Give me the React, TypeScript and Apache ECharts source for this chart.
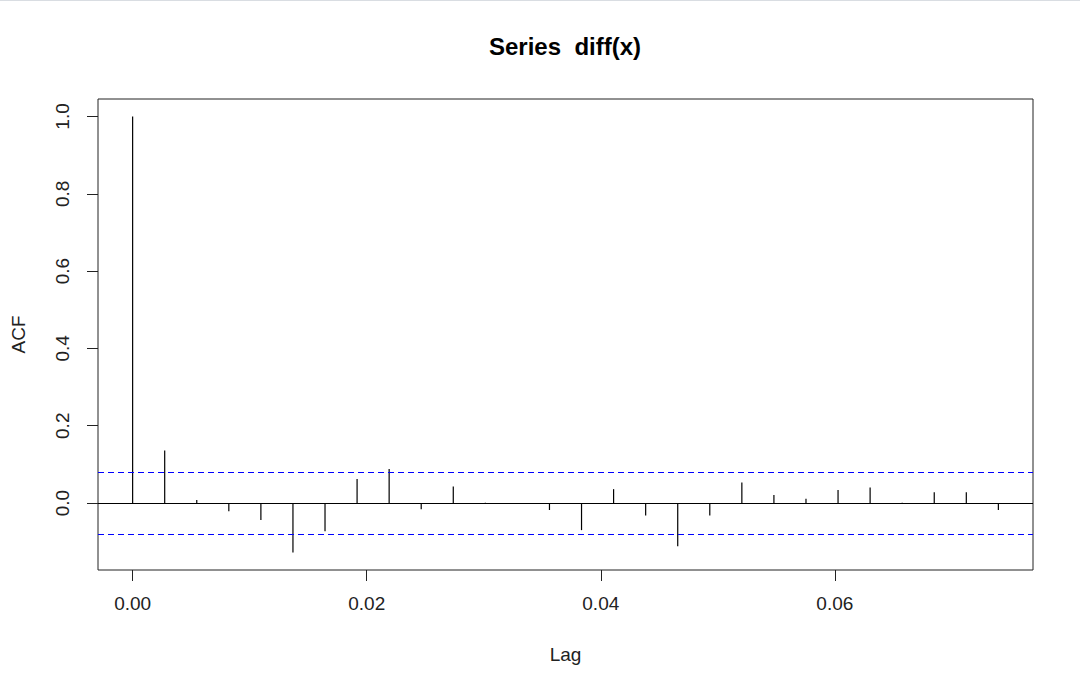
import React, { useEffect, useRef } from "react";
import * as echarts from "echarts";

// ACF values by lag index (lag = k / 365)
const lagIndex = [0, 1, 2, 3, 4, 5, 6, 7, 8, 9, 10, 11, 12, 13, 14, 15, 16, 17, 18, 19, 20, 21, 22, 23, 24, 25, 26, 27];
const acfValues = [
  1.0, 0.136, 0.008, -0.021, -0.044, -0.128, -0.073, 0.062, 0.088, -0.016,
  0.043, 0.001, -0.001, -0.018, -0.07, 0.036, -0.032, -0.112, -0.032, 0.053,
  0.021, 0.011, 0.034, 0.04, 0.001, 0.028, 0.028, -0.018,
];
const frequency = 365;
const confLimit = 0.0806;
const xTicks = [0, 0.02, 0.04, 0.06];
const yTicks = [0, 0.2, 0.4, 0.6, 0.8, 1.0];
const titleText = "Series  diff(x)";
const xName = "Lag";
const yName = "ACF";

const FONT = "'Liberation Sans', Arial, sans-serif";

export default function App() {
  const ref = useRef<HTMLDivElement>(null);
  useEffect(() => {
    if (!ref.current) return;
    const chart = echarts.init(ref.current, null, { renderer: "svg" });
    const data = lagIndex.map((k, i) => [k / frequency, acfValues[i]]);
    const lastLag = lagIndex[lagIndex.length - 1] / frequency;
    const xPad = lastLag * 0.04;
    const yMin = Math.min(...acfValues, -confLimit);
    const yMax = Math.max(...acfValues, confLimit);
    const yPad = (yMax - yMin) * 0.04;
    chart.setOption({
      animation: false,
      backgroundColor: "#fff",
      title: {
        text: titleText,
        left: 560,
        textAlign: "center",
        top: 29,
        textStyle: { fontFamily: FONT, fontSize: 24, fontWeight: "bold", color: "#000" },
      },
      graphic: [
        { type: "rect", left: 0, top: 0, shape: { width: 1080, height: 1 }, style: { fill: "#d9dde2" } },
      ],
      grid: {
        left: 98,
        right: 47,
        top: 99,
        bottom: 107,
        show: true,
        borderColor: "#222",
        borderWidth: 1,
        backgroundColor: "transparent",
      },
      xAxis: {
        type: "value",
        min: -xPad,
        max: lastLag + xPad,
        name: xName,
        nameLocation: "middle",
        nameGap: 75,
        nameTextStyle: { fontFamily: FONT, fontSize: 19, color: "#222" },
        axisLine: { show: false, onZero: false },
        splitLine: { show: false },
        axisTick: { show: true, inside: false, length: 11, lineStyle: { color: "#222" }, customValues: xTicks },
        axisLabel: {
          fontFamily: FONT,
          fontSize: 19,
          color: "#222",
          margin: 24,
          customValues: xTicks,
          formatter: (v: number) => v.toFixed(2),
        },
      },
      yAxis: {
        type: "value",
        min: yMin - yPad,
        max: yMax + yPad,
        name: yName,
        nameLocation: "middle",
        nameGap: 70,
        nameTextStyle: { fontFamily: FONT, fontSize: 19, color: "#222" },
        axisLine: { show: false, onZero: false },
        splitLine: { show: false },
        axisTick: { show: true, inside: false, length: 11, lineStyle: { color: "#222" }, customValues: yTicks },
        axisLabel: {
          fontFamily: FONT,
          fontSize: 19,
          color: "#222",
          rotate: 90,
          margin: 26,
          customValues: yTicks,
          formatter: (v: number) => v.toFixed(1),
        },
      },
      series: [
        {
          type: "custom",
          data,
          encode: { x: 0, y: 1 },
          renderItem: (params: any, api: any) => {
            const x = api.value(0);
            const y = api.value(1);
            const p0 = api.coord([x, 0]);
            const p1 = api.coord([x, y]);
            return {
              type: "line",
              shape: { x1: p0[0], y1: p0[1], x2: p1[0], y2: p1[1] },
              style: { stroke: "#000", lineWidth: 1.2 },
            };
          },
          markLine: {
            silent: true,
            symbol: "none",
            label: { show: false },
            data: [
              { yAxis: 0, lineStyle: { color: "#000", type: "solid", width: 1.2 } },
              { yAxis: confLimit, lineStyle: { color: "#0000ff", type: [6, 4], width: 1.2 } },
              { yAxis: -confLimit, lineStyle: { color: "#0000ff", type: [6, 4], width: 1.2 } },
            ],
          },
        },
      ],
    });
    return () => chart.dispose();
  }, []);
  return (
    <div
      ref={ref}
      style={{ position: "fixed", left: 0, top: 0, width: 1080, height: 677, background: "#fff" }}
    />
  );
}
